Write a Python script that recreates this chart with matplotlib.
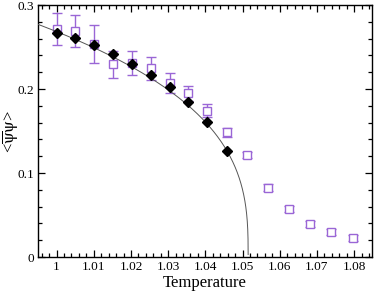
import numpy as np
import matplotlib
matplotlib.use("Agg")
from matplotlib import pyplot as plt
from matplotlib.ticker import MultipleLocator

plt.rcParams['font.family'] = ['Liberation Serif', 'DejaVu Serif']
plt.rcParams['mathtext.fontset'] = 'stix'

# black diamonds (fitted data)
t_fit = [1.0000, 1.0050, 1.0101, 1.0152, 1.0203, 1.0253, 1.0305, 1.0354, 1.0405, 1.0458]
pbp_fit = [0.2663, 0.2603, 0.2524, 0.2413, 0.2294, 0.2167, 0.2028, 0.1849, 0.1603, 0.1262]

# purple open squares with error bars
t_sq = [1.0000, 1.0050, 1.0101, 1.0152, 1.0203, 1.0253, 1.0305, 1.0354, 1.0405, 1.0458,
        1.0513, 1.0568, 1.0625, 1.0680, 1.0738, 1.0797]
pbp_sq = [0.2714, 0.2694, 0.2536, 0.2294, 0.2306, 0.2246, 0.2075, 0.1949, 0.1742, 0.1484,
          0.1214, 0.0825, 0.0568, 0.0389, 0.0301, 0.0223]
err_sq = [0.0193, 0.0189, 0.0228, 0.0159, 0.0145, 0.0133, 0.0120, 0.0092, 0.0079, 0.0054,
          0.0040, 0.0040, 0.0035, 0.0035, 0.0035, 0.0035]

# critical fit  A * (Tc - T)^beta
Tc = 1.0515
A = 0.74
beta = 0.342

fig = plt.figure(figsize=(3.74, 2.91), dpi=100)
ax = fig.add_axes([38/374, 1 - 257/291, 334/374, 252/291])

purple = '#9a66d6'
ax.errorbar(t_sq, pbp_sq, yerr=err_sq, fmt='s', mfc='white', mec=purple, ecolor=purple,
            ms=6, mew=1.0, elinewidth=1.0, capsize=3.5, capthick=1.0, zorder=2)

tt = Tc - np.geomspace(1e-7, Tc - 0.99, 400)
ax.plot(tt, A * (Tc - tt) ** beta, color='#555555', lw=0.7, zorder=3)

ax.plot(t_fit, pbp_fit, 'D', color='black', ms=5.5, zorder=4)

ax.set_xlim(0.995, 1.0848)
ax.set_ylim(0, 0.3)
ax.xaxis.set_minor_locator(MultipleLocator(0.002))
ax.yaxis.set_minor_locator(MultipleLocator(0.02))
ax.set_xticks([1.0, 1.01, 1.02, 1.03, 1.04, 1.05, 1.06, 1.07, 1.08])
ax.set_xticklabels(['1', '1.01', '1.02', '1.03', '1.04', '1.05', '1.06', '1.07', '1.08'])
ax.set_yticks([0, 0.1, 0.2, 0.3])
ax.set_yticklabels(['0', '0.1', '0.2', '0.3'])
ax.tick_params(which='both', direction='in', top=True, right=True, labelsize=9.5, pad=3)
ax.tick_params(which='major', length=5, width=0.9)
ax.tick_params(which='minor', length=3, width=0.9)
for s in ax.spines.values():
    s.set_linewidth(1.0)

ax.set_xlabel('Temperature', fontsize=12, labelpad=1)
ax.set_ylabel(r'<$\overline{\mathrm{\psi}}\mathrm{\psi}$>', fontsize=12, va='center')
ax.yaxis.set_label_coords(-0.08, 0.5)

fig.savefig('out.png', dpi=100)
